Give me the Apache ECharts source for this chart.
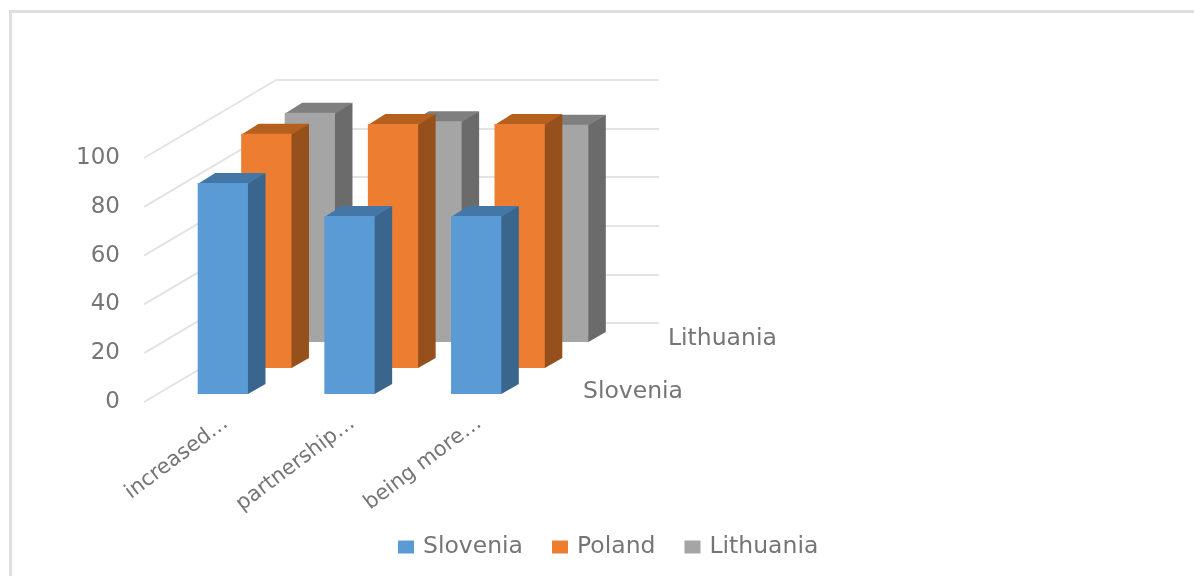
<!DOCTYPE html>
<html><head><meta charset="utf-8">
<style>html,body{margin:0;padding:0;background:#fff}#c{width:1194px;height:576px}</style>
<script src="https://cdn.jsdelivr.net/npm/echarts@6/dist/echarts.min.js"></script>
</head><body><div id="c"></div>
<script>
var categories = ['increased…', 'partnership…', 'being more…'];
var slovenia = [86.5, 73, 73];
var poland = [96, 100, 100];
var lithuania = [94, 90.5, 89];
var yTicks = [0, 20, 40, 60, 80, 100];
var depthLabels = ['Slovenia', 'Lithuania'];

var FONT = '"DejaVu Sans"';
var TXT = '#757575';
var WALL = '#e3e3e3';
var DX = 17.5, DY = -10, SHIFT_X = 43.5, SHIFT_Y = -26;

function barRender(k, front, top, side) {
  return function (params, api) {
    var i = api.value(0);
    var t = api.coord([i, api.value(1)]);
    var b = api.coord([i, 0]);
    var w = api.size([1, 0])[0] * 0.397;
    var x0 = t[0] - w / 2 + SHIFT_X * k, x1 = x0 + w;
    var yt = t[1] + SHIFT_Y * k, yb = b[1] + SHIFT_Y * k;
    return { type: 'group', children: [
      { type: 'polygon', shape: { points: [[x1 - 1, yt], [x1 + DX, yt + DY], [x1 + DX, yb + DY], [x1, yb], [x1 - 1, yb]] }, style: { fill: side } },
      { type: 'polygon', shape: { points: [[x0, yt + 1], [x0 + DX, yt + DY], [x1 + DX, yt + DY], [x1, yt + 1]] }, style: { fill: top } },
      { type: 'rect', shape: { x: x0, y: yt, width: w, height: yb - yt }, style: { fill: front } }
    ]};
  };
}
function barSeries(name, values, k, front, top, side) {
  return {
    type: 'custom', name: name, xAxisIndex: 0, yAxisIndex: 0, z: 5 - k,
    itemStyle: { color: front },
    renderItem: barRender(k, front, top, side),
    encode: { x: 0, y: 1 },
    data: values.map(function (v, i) { return [i, v]; })
  };
}

var chart = echarts.init(document.getElementById('c'), null, { renderer: 'canvas' });
chart.setOption({
  animation: false,
  backgroundColor: '#fff',
  grid: [
    { left: 159.5, top: 150, width: 380, height: 244 },
    { left: 277, top: 80, width: 382, height: 243 },
    { left: 144, top: 158, width: 133, height: 244 },
    { left: 162.5, top: 150, width: 380, height: 244 }
  ],
  xAxis: [
    { gridIndex: 0, type: 'category', data: categories, show: false },
    { gridIndex: 1, type: 'value', min: 0, max: 1, show: false },
    { gridIndex: 2, type: 'value', min: 0, max: 1, show: false },
    { gridIndex: 3, type: 'category', data: categories, axisLine: { show: false }, axisTick: { show: false },
      axisLabel: { interval: 0, rotate: 37, margin: 27, color: TXT, fontFamily: FONT, fontSize: 21 } }
  ],
  yAxis: [
    { gridIndex: 0, type: 'value', min: 0, max: 100, show: false },
    { gridIndex: 1, type: 'value', min: 0, max: 100, interval: 20, axisLine: { show: false }, axisTick: { show: false },
      axisLabel: { show: false }, splitLine: { lineStyle: { color: WALL, width: 2 } } },
    { gridIndex: 2, type: 'value', min: 0, max: 100, interval: 20, axisLine: { show: false }, axisTick: { show: false },
      splitLine: { show: false },
      axisLabel: { margin: 24, color: TXT, fontFamily: FONT, fontSize: 23 } },
    { gridIndex: 3, type: 'value', min: 0, max: 100, show: false }
  ],
  legend: {
    left: 393, top: 530, itemWidth: 16, itemHeight: 13, itemGap: 29, icon: 'rect',
    data: ['Slovenia', 'Poland', 'Lithuania'],
    textStyle: { color: TXT, fontFamily: FONT, fontSize: 23.5, padding: [0, 0, 0, 4] }
  },
  series: [
    {
      type: 'custom', name: 'wall', xAxisIndex: 2, yAxisIndex: 2, silent: true, z: 1,
      renderItem: function (params, api) {
        var a = api.coord([0, api.value(0)]);
        var c = api.coord([1, api.value(0)]);
        return { type: 'line', shape: { x1: a[0], y1: a[1], x2: c[0], y2: c[1] - 78.5 },
          style: { stroke: WALL, lineWidth: 2 } };
      },
      data: yTicks.map(function (t) { return [t]; }),
      encode: { y: 0 }
    },
    barSeries('Lithuania', lithuania, 2, '#a5a5a5', '#7f7f7f', '#6b6b6b'),
    barSeries('Poland', poland, 1, '#ed7d31', '#b6601f', '#96501c'),
    barSeries('Slovenia', slovenia, 0, '#5b9bd5', '#4477a5', '#3a658c')
  ],
  graphic: [
    { type: 'rect', silent: true, shape: { x: 9, y: 10, width: 3, height: 566 }, style: { fill: '#dedede' } },
    { type: 'rect', silent: true, shape: { x: 9, y: 10, width: 1185, height: 3 }, style: { fill: '#dedede' } },
    { type: 'text', silent: true, x: 583, y: 380, style: { text: depthLabels[0], fill: TXT, font: '23.5px ' + FONT } },
    { type: 'text', silent: true, x: 668, y: 327, style: { text: depthLabels[1], fill: TXT, font: '23.5px ' + FONT } }
  ]
});
</script></body></html>
